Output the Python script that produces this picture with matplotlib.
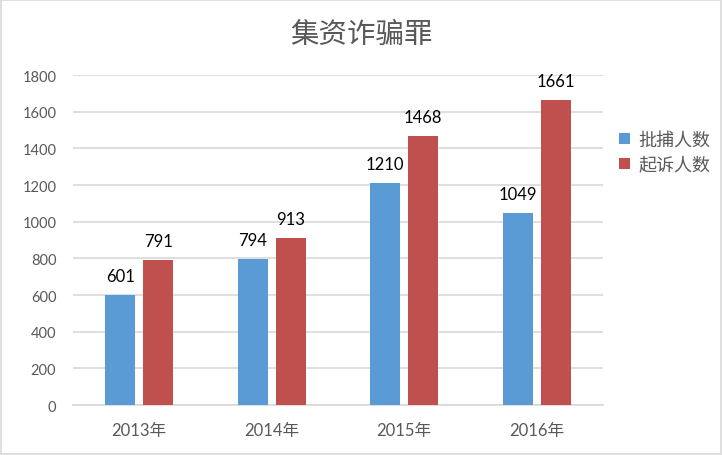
import matplotlib
matplotlib.use("Agg")
import matplotlib.pyplot as plt
from matplotlib.patches import Rectangle
import numpy as np

plt.rcParams['font.family'] = ['Lato', 'Noto Sans CJK SC', 'DejaVu Sans']

title = "集资诈骗罪"
categories = ["2013年", "2014年", "2015年", "2016年"]
series_names = ["批捕人数", "起诉人数"]
arrest = [601, 794, 1210, 1049]
prosecute = [791, 913, 1468, 1661]
yticks = [0, 200, 400, 600, 800, 1000, 1200, 1400, 1600, 1800]

blue = "#5B9BD5"
red = "#C0504D"
grey_text = "#595959"

fig = plt.figure(figsize=(7.22, 4.56), dpi=100)
fig.patches.append(Rectangle((0.0015, 0.002), 0.997, 0.996, transform=fig.transFigure,
                             fill=False, edgecolor="#d9d9d9", linewidth=1.2))
ax = fig.add_axes([0.101, 0.1096, 0.734, 0.7237])

x = np.arange(len(categories))
w = 0.226
off = 0.143
b1 = ax.bar(x - off, arrest, w, color=blue, label=series_names[0], zorder=3)
b2 = ax.bar(x + off, prosecute, w, color=red, label=series_names[1], zorder=3)

for bars, vals in ((b1, arrest), (b2, prosecute)):
    for r, v in zip(bars, vals):
        ax.annotate(str(v), (r.get_x() + r.get_width() / 2, v), xytext=(0, 8),
                    textcoords="offset points", ha="center", va="bottom",
                    fontsize=12, color="black")

ax.set_xlim(-0.5, len(categories) - 0.5)
ax.set_ylim(0, 1800)
ax.set_yticks(yticks)
ax.set_yticklabels([str(t) for t in yticks], fontsize=10.5, color=grey_text)
ax.set_xticks(x)
ax.set_xticklabels(categories, fontsize=12, color=grey_text)
ax.tick_params(axis='x', length=0, pad=12)
ax.tick_params(axis='y', length=0, pad=12)
ax.grid(axis='y', color="#d9d9d9", linewidth=1.2, zorder=0)
for s in ["top", "right", "left"]:
    ax.spines[s].set_visible(False)
ax.spines["bottom"].set_color("#d9d9d9")
ax.spines["bottom"].set_linewidth(1.2)

fig.text(0.5, 0.923, title, ha="center", va="center", fontsize=20.5, color=grey_text)

leg = ax.legend(loc="upper left", bbox_to_anchor=(1.0, 0.88), frameon=False,
                fontsize=13, handlelength=0.6, handleheight=0.6, handletextpad=0.45,
                labelspacing=0.45, labelcolor=grey_text)

fig.savefig("out.png", dpi=100)
